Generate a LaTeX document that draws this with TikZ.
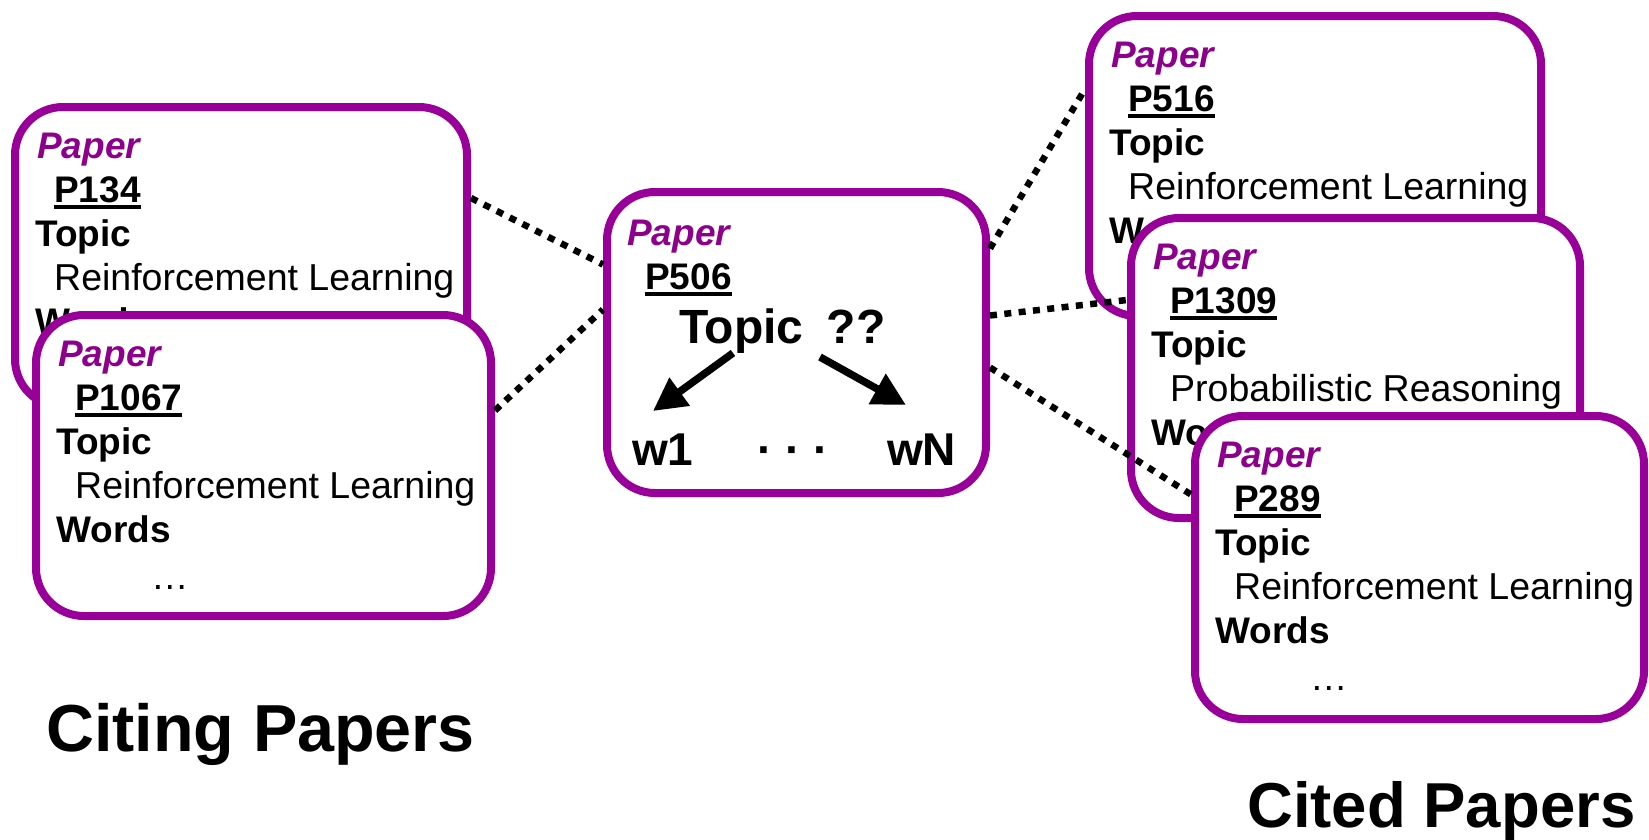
\documentclass[tikz,border=0pt]{standalone}
\usepackage{fontspec}
\setmainfont{Liberation Sans}
\usetikzlibrary{arrows.meta}
\definecolor{boxpurple}{RGB}{153,0,153}
\definecolor{txtpurple}{RGB}{140,0,140}
\newcommand\myul[1]{\setbox0\hbox{#1}\rlap{\rule[-6.5pt]{\wd0}{4pt}}\box0}
\tikzset{
  paperbox/.style={draw=boxpurple, line width=8pt, fill=white, rounded corners=48pt, inner sep=0pt},
  txt/.style={anchor=base west, inner sep=0pt, font=\fontsize{37.5}{44}\selectfont},
  ptitle/.style={txt, text=txtpurple, font=\fontsize{37}{44}\selectfont\bfseries\itshape},
  plabel/.style={txt, font=\fontsize{37}{44}\selectfont\bfseries},
  bigtxt/.style={anchor=base west, inner sep=0pt, font=\fontsize{46}{52}\selectfont\bfseries},
  caption/.style={anchor=base west, inner sep=0pt, font=\fontsize{66.5}{72}\selectfont\bfseries},
  dotconn/.style={line width=6.5pt, dash pattern=on 7pt off 7.4pt},
  bigarrow/.style={line width=7.5pt, -{Triangle[length=33pt,width=33pt]}}
}
% #1 name, #2 x0, #3 y0 (outer top-left), #4 outer width, #5 outer height, #6 id, #7 topic
\newcommand\paper[7]{%
  \node[paperbox, minimum width=#4pt-8pt, minimum height=#5pt-8pt] (#1) at (#2+#4/2,#3+#5/2) {};
  \node[ptitle] (#1-a) at (#2+26,#3+55) {Paper};
  \node[plabel] (#1-b) at (#2+43,#3+99) {\myul{#6}};
  \node[plabel] (#1-c) at (#2+24,#3+143) {Topic};
  \node[txt] (#1-d) at (#2+43,#3+187) {#7};
  \node[plabel] (#1-e) at (#2+24,#3+231) {Words};
  \node[txt] (#1-f) at (#2+119,#3+278) {…};
}
\begin{document}
\begin{tikzpicture}[x=1pt,y=-1pt]
\useasboundingbox[fill=white] (0,0) rectangle (1649,839);

\paper{p134}{11}{103}{460}{308}{P134}{Reinforcement Learning}
\paper{p1067}{32}{311}{463}{309}{P1067}{Reinforcement Learning}

\node[paperbox, minimum width=379pt, minimum height=301pt] (p506) at (796.5,342.5) {};
\node[ptitle] (p506-a) at (627,245) {Paper};
\node[plabel] (p506-b) at (645,289) {\myul{P506}};
\node[bigtxt, font=\fontsize{48}{52}\selectfont\bfseries] (topic) at (679,343) {Topic\hspace{10pt} ??};
\node[bigtxt] (w1) at (632,465) {w1};
\node[bigtxt] (wdots) at (757,465) {· · ·};
\node[bigtxt] (wN) at (887,465) {wN};
\coordinate (t1) at (733,353);
\coordinate (h1) at (653,411);
\coordinate (t2) at (820,357);
\coordinate (h2) at (906,405);
\draw[bigarrow] (t1) -- (h1);
\draw[bigarrow] (t2) -- (h2);

\paper{p516}{1085}{12}{460}{308}{P516}{Reinforcement Learning}
\paper{p1309}{1127}{214}{457}{308}{P1309}{Probabilistic Reasoning}
\paper{p289}{1191}{412}{457}{311}{P289}{Reinforcement Learning}

\draw[dotconn] ([yshift=59pt]p134.east) -- ([yshift=78pt]p506.west);
\draw[dotconn] ([yshift=55pt]p1067.east) -- ([yshift=33pt]p506.west);
\draw[dotconn] ([yshift=94pt]p506.east) -- ([yshift=77pt]p516.west);
\draw[dotconn] ([yshift=27pt]p506.east) -- ([yshift=68pt]p1309.west);
\draw[dotconn] ([yshift=-25pt]p506.east) -- ([yshift=73pt]p289.west);

\node[caption] (citing) at (46,751) {Citing Papers};
\node[caption, font=\fontsize{63.5}{72}\selectfont\bfseries] (cited) at (1247,827) {Cited Papers};
\end{tikzpicture}
\end{document}
